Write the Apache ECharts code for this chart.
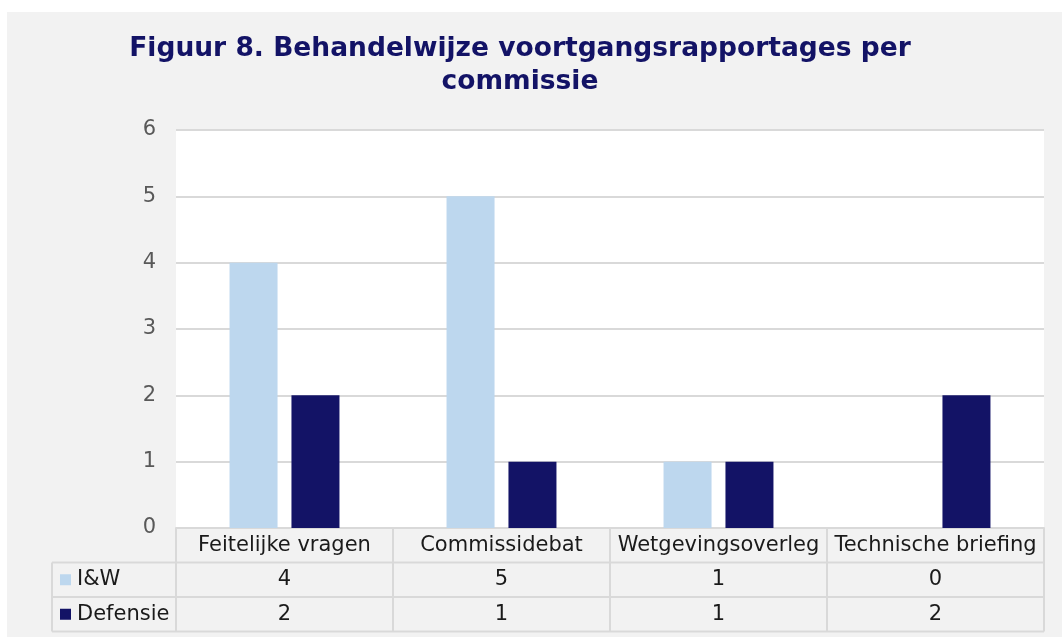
<!DOCTYPE html>
<html>
<head>
<meta charset="utf-8">
<script src="https://cdn.jsdelivr.net/npm/echarts@6/dist/echarts.min.js"></script>
<style>
html, body { margin: 0; padding: 0; background: #fff; width: 1062px; height: 637px; overflow: hidden; }
#main { position: absolute; left: 7px; top: 12px; width: 1055px; height: 625px; background: #f2f2f2; }
</style>
</head>
<body>
<div id="main"></div>
<script>
// categorieen en waarden
var categories = ['Feitelijke vragen', 'Commissidebat', 'Wetgevingsoverleg', 'Technische briefing'];
var seriesNames = ['I&W', 'Defensie'];
var iwValues = [4, 5, 1, 0];
var defensieValues = [2, 1, 1, 2];
var yTicks = [0, 1, 2, 3, 4, 5, 6];
var titleText = 'Figuur 8. Behandelwijze voortgangsrapportages per\ncommissie';

var colors = ['#bdd7ee', '#131366'];
var font = '"DejaVu Sans", Verdana, sans-serif';
var lineColor = '#d9d9d9';

var myChart = echarts.init(document.getElementById('main'));

var option = {
    animation: false,
    textStyle: { fontFamily: font },
    grid: {
        left: 169,
        right: 18,
        top: 118,
        bottom: 109,
        show: true,
        backgroundColor: '#ffffff',
        borderWidth: 0
    },
    xAxis: {
        type: 'category',
        data: categories,
        axisLine: { lineStyle: { color: lineColor, width: 2 } },
        axisTick: { show: false },
        axisLabel: { show: false }
    },
    yAxis: {
        type: 'value',
        min: yTicks[0],
        max: yTicks[yTicks.length - 1],
        interval: 1,
        axisLine: { show: false },
        axisTick: { show: false },
        axisLabel: { color: '#595959', fontSize: 21, fontFamily: font, margin: 20 },
        splitLine: { lineStyle: { color: lineColor, width: 2 } }
    },
    series: [{
        name: seriesNames[0],
        type: 'bar',
        data: iwValues,
        barWidth: 48,
        barGap: '29%',
        itemStyle: { color: colors[0] }
    }, {
        name: seriesNames[1],
        type: 'bar',
        data: defensieValues,
        barWidth: 48,
        itemStyle: { color: colors[1] }
    }]
};
myChart.setOption(option);

// titel en datatabel onder de grafiek
var rows = [iwValues, defensieValues];
var y0 = myChart.convertToPixel({ yAxisIndex: 0 }, 0);
var c0 = myChart.convertToPixel({ xAxisIndex: 0 }, categories[0]);
var c1 = myChart.convertToPixel({ xAxisIndex: 0 }, categories[1]);
var step = c1 - c0;
var gridLeft = c0 - step / 2;
var gridRight = gridLeft + step * categories.length;
var rowH = 34.5;
var tableLeft = 45;
var tableBottom = y0 + rowH * 3;

var elements = [];
elements.push({
    type: 'text',
    x: 513,
    y: 21,
    style: {
        text: titleText,
        align: 'center',
        verticalAlign: 'top',
        fill: '#131366',
        font: 'bold 26.5px ' + font,
        lineHeight: 33
    }
});

function hline(x1, x2, y) {
    elements.push({ type: 'line', shape: { x1: x1, y1: y, x2: x2, y2: y }, style: { stroke: lineColor, lineWidth: 2 }, z: 5 });
}
function vline(x, y1, y2) {
    elements.push({ type: 'line', shape: { x1: x, y1: y1, x2: x, y2: y2 }, style: { stroke: lineColor, lineWidth: 2 }, z: 5 });
}
function cellText(txt, x, y, align) {
    elements.push({
        type: 'text', x: x, y: y, z: 6,
        style: { text: txt, align: align || 'center', verticalAlign: 'middle', fill: '#1a1a1a', font: '21px ' + font }
    });
}

hline(tableLeft, gridRight, y0 + rowH);
hline(tableLeft, gridRight, y0 + rowH * 2);
hline(tableLeft, gridRight, tableBottom);
vline(tableLeft, y0 + rowH, tableBottom);
for (var i = 0; i <= categories.length; i++) {
    vline(gridLeft + step * i, y0, tableBottom);
}
categories.forEach(function (cat, i) {
    var cx = gridLeft + step * (i + 0.5);
    cellText(cat, cx, y0 + rowH * 0.5);
    rows.forEach(function (vals, r) {
        cellText(String(vals[i]), cx, y0 + rowH * (r + 1.5));
    });
});
seriesNames.forEach(function (name, r) {
    var cy = y0 + rowH * (r + 1.5);
    elements.push({ type: 'rect', z: 6, shape: { x: 53, y: cy - 5.5, width: 11, height: 11 }, style: { fill: colors[r] } });
    cellText(name, 70, cy, 'left');
});

myChart.setOption({ graphic: { elements: elements } });
</script>
</body>
</html>
